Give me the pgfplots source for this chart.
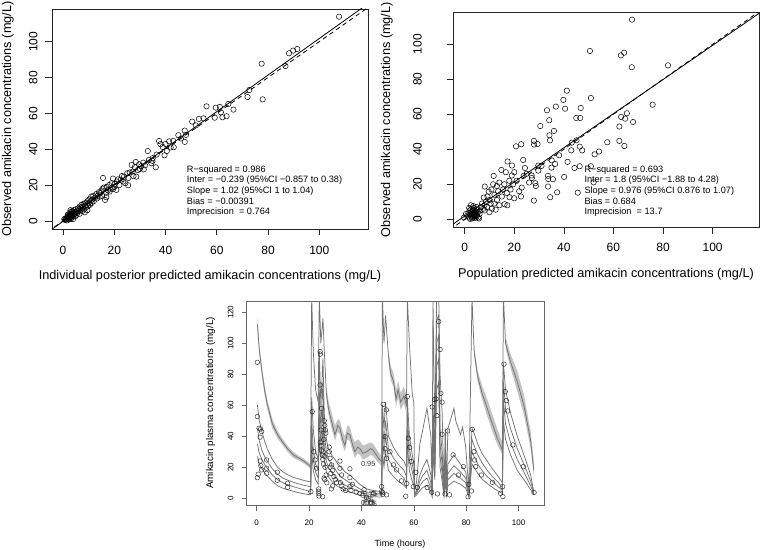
\documentclass[border=0pt]{standalone}
\usepackage{pgfplots}
\pgfplotsset{compat=1.18}
\usepackage{fontspec}
\setmainfont{Liberation Sans}
\definecolor{pline}{RGB}{115,115,115}
\definecolor{band}{RGB}{195,195,195}
\begin{document}
\begin{tikzpicture}[x=1pt,y=1pt]
\useasboundingbox (0,0) rectangle (760,549);
\pgfplotsset{
 topax/.style={scale only axis, anchor=south west,
   axis line style={black!85, line width=0.7pt},
   tick align=outside, major tick length=6.5pt,
   tick style={black!85, line width=0.6pt},
   xtick pos=bottom, ytick pos=left,
   xticklabel=\empty, yticklabel=\empty,
   xtick={0,20,...,100}, ytick={0,20,...,100}},
 obs/.style={only marks, mark=o, mark size=2.7pt, mark options={line width=0.5pt}, black},
}
% ---------------- Top left ----------------
\begin{axis}[topax, at={(52pt,320pt)}, width=316pt, height=220pt,
  xmin=-4.3, xmax=119, ymin=-4.5, ymax=118.2]
\addplot[obs] coordinates {
(0.5,1)(0.8,0.5)(1,1.5)(1.2,0.8)(1.5,1.2)(1.5,0.3)(1.8,2.5)(1.9,3.6)(2,1)(2,2)(2.2,3)(2.3,0.8)(2.4,2)(2.5,4)(2.6,2.8)(2.7,1.5)(2.8,3.5)(2.9,6)(3,2.5)(3,5)(3.1,1.2)(3.2,3)(3.3,4.2)(3.4,4.8)(3.5,2)(3.6,5.5)(3.8,3.8)(3.9,1)(4,4.5)(4,2.8)(4.2,6)(4.3,3.5)(4.5,5)(4.7,4)(4.8,2.5)(5,6.5)(5.2,5)(5.3,3.5)(5.5,4.5)(5.8,7)(6,5.5)(6.2,6.5)(6.5,8)(6.5,4)(6.8,6)(7,7.5)(7.2,9)(7.5,7)(7.5,5.5)(7.8,8)(8,9.5)(8.2,6.5)(8.5,8.5)(8.5,4.8)(8.8,10)(9,7.5)(9.2,9)(9.5,11)(9.5,6)(9.8,8.5)(10,10)(10.3,12)(10.5,9)(10.8,11)(11,13.5)(11.2,10)(11.5,12)(11.8,14)(12,11)(12.5,13)(13,15)(13.2,12.5)(13.5,14)(14,16)(14.3,13.5)(14.5,15.5)(15,17)(15.2,14)(15.5,18)(15.6,24)(15.9,18.6)(16.4,11.7)(16.9,13.2)(16.9,15.8)(17,19)(17.5,17)(18,20)(18.2,16.4)(18.5,18)(19,21)(19.5,17.7)(19.5,23.6)(20,19)(20.2,20.6)(20.8,17.3)(21,22)(21.5,23.2)(22,20)(22.5,23)(23,25)(23.5,22)(23.8,24.7)(24.3,21)(25.1,26.6)(25.4,19.9)(25.5,24)(26,27)(26.8,31.2)(27.2,27.5)(27.5,25)(28,30)(28.4,32.9)(28.6,24.7)(29.2,28.4)(29.7,31.6)(30,29)(30.5,30.5)(31.3,32.5)(31.5,28.8)(32,31)(33.1,39)(33.5,34)(34.5,32.2)(34.9,33.5)(35,35)(36.2,29.9)(36.5,37)(37.5,44.6)(38,42.8)(38.9,41.3)(39.6,36.6)(40,42.9)(40.5,39)(41.4,44.4)(42,41)(43,44.6)(43.2,41.1)(45,47.8)(46,46)(47.5,50.4)(47.5,44.1)(48,48)(50.4,55.4)(51.8,53.3)(53,56.9)(54.8,57.2)(56,63.9)(59.2,57.6)(59.6,63.2)(61.2,63.6)(61.6,60.6)(62.2,57.8)(63.8,58.4)(64.5,65.2)(66.5,62.1)(72,69.1)(72.7,73)(77.5,87.7)(77.9,67.8)(86.8,86.4)(88.2,93.5)(89.8,95)(91.4,95.9)(107.7,113.9)
};
\addplot[black, line width=0.8pt] coordinates {(-6,-6.359)(122,124.201)};
\addplot[black, line width=0.8pt, dash pattern=on 4.5pt off 3.5pt] coordinates {(-6,-6)(122,122)};
\end{axis}
% ---------------- Top right ----------------
\begin{axis}[topax, at={(453pt,321.7pt)}, width=306pt, height=215pt,
  xmin=-4.7, xmax=118.7, ymin=-4.6, ymax=118.3]
\addplot[obs] coordinates {
(1,2)(1.5,3.5)(2,1)(2,5)(2.3,2.5)(2.5,4)(2.7,6)(2.8,1.5)(3,3)(3,0.5)(3.1,4.5)(3.2,2)(3.3,5.5)(3.4,1)(3.5,3.5)(3.6,2.5)(3.7,6.5)(3.8,4)(3.9,1.5)(4,3)(4,5)(4.2,2)(4.3,0.8)(4.5,4.5)(4.6,3)(4.8,1.5)(5,2.5)(5,6)(5.3,4)(5.5,1)(6,3)(6.3,5)(2.5,8)(3.5,7.5)(1.8,6.5)(0.5,3)(-0.3,1)(4.8,7)(5.8,0.5)(2.2,0.2)
(6.5,7)(7,9)(7.5,6)(7.7,12.4)(8,5)(8,8)(8.1,18.7)(8.5,10)(9,7)(9.2,13)(9.7,15.8)(10,4)(10,11)(10.5,9)(10.8,17)(11,6)(11.5,20)(11.7,24.8)(12,14)(12,9)(12.5,5.5)(13,19)(13,11)(13.5,16)(14,21)(14,8)(14.8,28.2)(15,13)(15.5,17)(16,20)(16.1,8.6)(16.6,26.9)(17,15)(17.2,8)(17.3,33)(18,22)(18.1,12.6)(18.5,17)(19,25)(19.1,30.7)(19.5,20)(20,26.9)(20,12)(20.7,41.7)(21,22)(22,16)(22.7,13)(22.8,42.9)(23,18.1)(23.6,33.9)(23.8,24.8)(24.3,29.3)(25,26)(26,21)(27,25)(27.1,23.6)(27.9,44.8)(27.9,10.7)(28,42.7)(28.5,20.6)(28.7,19)(29.4,43)(29.7,30.7)(29.7,27.8)(30.5,53.3)(31,30.5)(33.2,62.3)(33.6,24.8)(33.6,18.7)(33.7,23)(34.1,56.6)(34.2,48)(34.4,45.1)(34.5,12.6)(35,29.5)(35.1,33.7)(35.6,22.9)(36,50.5)(36.5,31.6)(36.8,64.4)(37.3,15.4)(38.1,36.6)(39.8,68.2)(40.1,24.2)(40.5,63.2)(41.2,73.5)(41.5,32.8)(43,39.4)(43.2,43.8)(44.3,29.3)(45,57.9)(45.1,45.1)(45.6,15.2)(46.4,41.5)(46.4,30.3)(46.6,57.9)(46.8,63.6)(47.4,39.4)(50.5,96.2)(50.9,69.3)(50.9,30.3)(52,21.1)(52.4,37.1)(54.2,38.7)(57.5,44)(62.4,44.8)(62.4,53)(63,93.7)(63.1,58.5)(64.3,95.2)(64.4,41.9)(64.7,57.5)(65.4,60.6)(67.4,86.9)(67.5,114.1)(67.9,55.6)(75.8,65.5)(82,88)
};
\addplot[black, line width=0.8pt] coordinates {(-6,-4.056)(122,120.872)};
\addplot[black, line width=0.8pt, dash pattern=on 4.5pt off 3.5pt] coordinates {(-6,-6)(122,122)};
\end{axis}
% ---------------- Bottom ----------------
\begin{axis}[scale only axis, anchor=south west, at={(246.7pt,43.3pt)}, width=297.6pt, height=204pt,
  xmin=-3.8, xmax=109.8, ymin=-4.8, ymax=126.8,
  axis line style={black!60, line width=0.6pt},
  tick align=outside, major tick length=5pt,
  tick style={black!60, line width=0.5pt},
  xtick pos=bottom, ytick pos=left,
  xticklabel=\empty, yticklabel=\empty,
  xtick={0,20,...,100}, ytick={0,20,...,120}]
% band around 95th percentile
\addplot[fill=band, draw=none] coordinates {(0.3,116)(1,99)(2,85)(3,73)(4,64)(6,51)(8,43.5)(10,38)(12,33.5)(14,30)(16,27.5)(18,25.5)(20.6,22)(20.6,19)(18,22.5)(16,24.5)(14,26)(12,29.5)(10,34)(8,38.5)(6,45)(4,58)(3,67)(2,79)(1,93)(0.3,108)};
\addplot[fill=band, draw=none] coordinates {(26.6,72)(27.4,63)(28.6,55)(29.9,47)(31,51)(31.8,50)(32.8,43)(33.7,40)(34.6,47)(35.6,46)(36.5,40)(37.5,36)(38.5,38)(39.4,37)(40.5,34)(42,35)(43.5,36)(44.5,35)(46.4,30)(47.7,27)(47.7,21)(46.4,23)(44.5,27)(43.5,28)(42,26)(40.5,25)(39.4,28)(38.5,29)(37.5,26)(36.5,31)(35.6,37)(34.6,38)(33.7,30)(32.8,34)(31.8,41)(31,43)(29.9,37)(28.6,45)(27.4,54)(26.6,64)};
\addplot[fill=band, draw=none] coordinates {(50.3,96)(51.2,85)(52.2,81)(53.2,70)(54,76)(55,68)(56.2,72)(57.2,66)(57.2,55)(56.2,61)(55,57)(54,65)(53.2,59)(52.2,72)(51.2,76)(50.3,88)};
\addplot[fill=band, draw=none] coordinates {(83,98)(84.4,82)(86,73)(88,64)(90,54)(91.8,45)(93.8,36)(93.8,28)(91.8,35)(90,43)(88,53)(86,64)(84.4,75)(83,92)};
\addplot[fill=band, draw=none] coordinates {(95,104)(96.9,93)(99.5,82)(102,67)(104.6,43)(105.8,23)(105.8,15)(104.6,32)(102,54)(99.5,69)(96.9,84)(95,97)};
% percentile lines
\addplot[pline, line width=0.75pt] coordinates {(0.3,112)(1,96)(2,82)(3,70)(4,61)(6,48)(8,41)(10,36)(12,31.5)(14,28)(16,26)(18,24)(20.6,20.5)(21,130)(21.6,95)(22.5,70)(23.5,62)(23.9,130)(24.5,100)(25.3,116)(25.8,96)(26.6,68)(27.4,58)(28.6,49.5)(29.9,41)(31,47)(31.8,45)(32.8,38)(33.7,34)(34.6,42)(35.6,41)(36.5,35)(37.5,30)(38.5,33)(39.4,32)(40.5,29)(42,30)(43.5,32)(44.5,31)(46.4,26)(47.7,23.7)(48,130)(48.6,100)(49.2,118)(50.3,92)(51.2,80)(52.2,76)(53.2,64)(54,70)(55,62)(56.2,66)(57.2,60)(57.5,130)(58.3,100)(59.4,67)(60,62)(60.3,6)(61,10)(62.3,35)(63.5,45)(65,58)(66.5,40)(67,5)(67.3,130)(68,40)(68.7,130)(69.5,130)(70,80)(70.8,55)(71.5,5)(72,45)(72.5,10)(73,45)(75.3,58)(76,50)(77.8,41)(78.6,46)(79.8,33)(81,5)(82.2,130)(83,95)(84.4,78)(86,68)(88,58)(90,48)(91.8,39)(93.8,31)(94.2,130)(95,100)(96.9,88)(99.5,75)(102,60)(104.6,37)(105.8,18)};
\addplot[pline, line width=0.75pt] coordinates {(0.3,60)(1,50)(2,43)(3,37)(4,32)(6,25)(8,20)(10,17)(12,15)(14,13.5)(16,12.5)(18,11.5)(20.6,10.5)(21,65)(21.6,45)(22.5,30)(23.5,25)(23.9,95)(24.5,60)(25.3,90)(25.8,55)(26.6,38)(27.4,32)(28.6,28)(29.9,25)(31,22)(32.8,19)(33.7,17)(35.6,15)(37.5,12)(39.4,9)(42,6)(44.5,5)(47.7,4.3)(48,60)(48.6,45)(49.2,62)(50.3,40)(52.2,33)(54,28)(56.2,24)(57.2,20)(57.5,65)(58.3,40)(59.4,28)(60,22)(60.3,3)(61,5)(62.3,15)(63.5,20)(65,25)(66.5,15)(67,3)(67.3,60)(68,30)(68.7,115)(69.5,118)(70,45)(70.8,30)(71.5,3)(72,30)(72.5,5)(73,22)(75.3,28)(77.8,22)(79.8,17)(81,3)(82.2,45)(83,42)(84.4,35)(86,29)(88,24)(90,19)(91.8,15)(93.8,10)(94.2,87)(95,70)(96.9,55)(99.5,40)(102,28)(104.6,15)(105.8,4)};
\addplot[pline, line width=0.75pt] coordinates {(0.3,45)(1,37)(2,31)(3,27)(4,24)(6,19)(8,15.5)(10,13)(12,11.6)(14,10.3)(16,9.3)(18,8.4)(20.6,7.5)(21,50)(21.6,32)(22.5,22)(23.5,18)(23.9,70)(24.5,45)(25.3,75)(25.8,42)(26.6,30)(27.4,25)(28.6,22)(29.9,19)(31,16)(32.8,13)(33.7,12)(35.6,10)(37.5,8)(39.4,6)(42,4)(44.5,3.5)(47.7,3)(48,50)(48.6,35)(49.2,50)(50.3,32)(52.2,26)(54,22)(56.2,18)(57.2,14)(57.5,55)(58.3,32)(59.4,22)(60,17)(60.3,2.5)(61,4)(62.3,11)(63.5,15)(65,18)(66.5,10)(67,2.5)(67.3,50)(68,22)(68.7,100)(69.5,105)(70,35)(70.8,22)(71.5,2.5)(72,22)(72.5,4)(73,16)(75.3,21)(77.8,17)(79.8,13)(81,2)(82.2,38)(83,34)(84.4,28)(86,23)(88,18)(90,14)(91.8,11)(93.8,7)(94.2,75)(95,58)(96.9,45)(99.5,32)(102,22)(104.6,11)(105.8,3.5)};
\addplot[pline, line width=0.75pt] coordinates {(0.3,35)(1,29)(2,25)(3,22)(4,19.5)(6,15)(8,12)(10,10)(12,8.6)(14,7.5)(16,6.5)(18,5.5)(20.6,4.3)(21,40)(21.6,25)(22.5,17)(23.5,13)(23.9,55)(24.5,35)(25.3,60)(25.8,33)(26.6,24)(27.4,20)(28.6,17)(29.9,14)(31,12)(32.8,9.5)(33.7,8.5)(35.6,7)(37.5,5.5)(39.4,4)(42,2.8)(44.5,2.4)(47.7,2)(48,40)(48.6,28)(49.2,40)(50.3,25)(52.2,20)(54,17)(56.2,13)(57.2,10)(57.5,45)(58.3,25)(59.4,17)(60,13)(60.3,2)(61,3)(62.3,8)(63.5,11)(65,13)(66.5,7)(67,2)(67.3,40)(68,17)(68.7,85)(69.5,90)(70,27)(70.8,16)(71.5,2)(72,16)(72.5,3)(73,12)(75.3,16)(77.8,13)(79.8,10)(81,1.5)(82.2,30)(83,27)(84.4,22)(86,18)(88,14)(90,11)(91.8,8)(93.8,5)(94.2,63)(95,48)(96.9,36)(99.5,25)(102,17)(104.6,8)(105.8,3)};
\addplot[pline, line width=0.75pt] coordinates {(0.3,27)(1,22)(2,19)(3,16.5)(4,14.5)(6,11)(8,8)(10,6.5)(12,5.4)(14,4.5)(16,3.6)(18,2.9)(20.6,2.2)(21,30)(21.6,18)(22.5,12)(23.5,9)(23.9,40)(24.5,25)(25.3,45)(25.8,24)(26.6,17)(27.4,14)(28.6,11)(29.9,9)(31,7.5)(32.8,6)(33.7,5)(35.6,4)(37.5,3)(39.4,2)(42,1.2)(44.5,1)(47.7,0.8)(48,30)(48.6,20)(49.2,30)(50.3,18)(52.2,14)(54,11)(56.2,8.5)(57.2,6.5)(57.5,35)(58.3,18)(59.4,11)(60,8)(60.3,1)(61,2)(62.3,5)(63.5,7)(65,8.5)(66.5,4)(67,1)(67.3,30)(68,12)(68.7,70)(69.5,75)(70,20)(70.8,11)(71.5,1)(72,10)(72.5,1.5)(73,8)(75.3,11)(77.8,9)(79.8,6.5)(81,0.8)(82.2,22)(83,20)(84.4,16)(86,12.5)(88,9.5)(90,7)(91.8,5)(93.8,3)(94.2,50)(95,38)(96.9,28)(99.5,18)(102,12)(104.6,5.5)(105.8,2.5)};
% observations
\addplot[only marks, mark=o, mark size=2.3pt, mark options={line width=0.45pt}, black!85] coordinates {
(0.25,87.7)(0.25,52.7)(0.9,45.2)(1.5,44.7)(1.9,43)(1.3,39.4)(0.25,13.3)(1.3,24)(1.6,21)(1.9,18.3)(3.8,24.7)(3.8,19.4)(3.8,16.1)(0.6,15.5)(7.9,16.8)(7.9,11.6)(11.8,9.7)(11.8,7.1)(20.7,4.3)(21.2,55.9)(21.8,30)(22.3,24.7)(22.9,19.4)(23.7,6)(23.7,4.5)(23.7,3)(23.8,1.5)(24.2,94.6)(24.3,93)(24.2,73.1)(24.8,58)(24.6,44)(24.3,36)(24.5,34)(24.7,31)(25.2,1)(25,28)(25.3,25)(25.5,22)(25.8,50)(26,47)(26.2,44)(26.4,42)(25.6,38)(25.4,30)(25.9,27)(26.1,20)(26.5,15)(26,12)(25.7,13)(26.8,10)(27.7,33)(27.7,30)(28,25.8)(28.6,21.5)(28,20)(28.3,16)(29,18)(29.5,14)(30,12)(30.5,10)(29,8)(28.5,6)(31.8,24)(31.8,19.4)(32.4,15)(32,10)(32.5,8)(33,6)(35.6,19)(35.6,13.3)(35.6,7.5)(36,5)(34,5)(36.5,9)(38,4)(39.4,3.2)(40.5,2)(41,5.5)(42,0.5)(42.5,-1)(43.5,-2.5)(44.5,3)(47.7,7.5)(47.7,4.3)(48.2,2.6)(48.1,3.7)(48.3,60.6)(49,39.8)(49,32)(49.6,25.8)(49.5,57)(49.6,2.2)(50.9,30)(52.2,21.5)(53.4,18.3)(55.3,11.2)
(57.5,65.6)(57.9,38.7)(58.4,32.9)(59,23.7)(60.8,16.8)(56.9,1.3)(57.3,9.5)(59.8,7.5)(61.3,6.9)(65.1,6.9)(66.8,3.9)(69,2.8)(67,58.9)(67.9,63.7)(68.5,64.1)(69.5,114)(70,96)(70.3,67.7)(70.8,62)(68.8,53.3)(70.8,41.3)(72.9,43.4)(71.9,2.8)(73.6,2.2)(75,28)(78.9,20.4)(77,15)(81,9)(80.7,1)(82,4.7)(82.3,44.5)(82.9,30)(83.2,24.7)(83.6,20.4)(85.8,15)(90,10.3)(93.1,3.2)(93.9,7.5)(94,1.1)(94.4,86.5)(94.9,68.8)(95.3,63)(95.8,56.3)(97.8,34.4)(101.8,20.4)(105.9,3.7)
};
\node[font=\fontsize{7.4}{8}\selectfont, text=black!80] at (axis cs:42.6,21.9) {0.95};
\node[font=\fontsize{7.4}{8}\selectfont, text=black!80] at (axis cs:43.3,2.6) {0.75};
\node[font=\fontsize{7.4}{8}\selectfont, text=black!80] at (axis cs:42.8,-1.2) {0.5};
\node[font=\fontsize{7.4}{8}\selectfont, text=black!80] at (axis cs:42.6,-2.8) {0.25};
\node[font=\fontsize{7.4}{8}\selectfont, text=black!80] at (axis cs:43.2,-3.8) {0.05};
\end{axis}
% ---------------- tick labels ----------------
\begin{scope}[every node/.style={font=\fontsize{12}{14}\selectfont, inner sep=0pt}]
\foreach \v/\p in {0/63.02,20/114.3,40/165.5,60/216.8,80/268.0,100/319.3} \node[anchor=base] at (\p,294) {\v};
\foreach \v/\p in {0/328.1,20/363.9,40/399.8,60/435.6,80/471.5,100/507.3} \node[anchor=base, rotate=90] at (37.3,\p) {\v};
\foreach \v/\p in {0/464.65,20/514.25,40/563.85,60/613.4,80/663.0,100/712.6} \node[anchor=base] at (\p,297.3) {\v};
\foreach \v/\p in {0/329.75,20/364.7,40/399.7,60/434.7,80/469.7,100/504.7} \node[anchor=base, rotate=90] at (421.7,\p) {\v};
\end{scope}
\begin{scope}[every node/.style={font=\fontsize{8}{9}\selectfont, inner sep=0pt}]
\foreach \v/\p in {0/256.65,20/309.05,40/361.45,60/413.85,80/466.2,100/518.6} \node[anchor=base] at (\p,24) {\v};
\foreach \v/\p in {0/50.74,20/81.74,40/112.74,60/143.75,80/174.75,100/205.76,120/236.76} \node[anchor=base, rotate=90] at (233.3,\p) {\v};
\end{scope}
% ---------------- labels ----------------
\node[anchor=base, font=\fontsize{12.7}{14}\selectfont] at (210,269) {Individual posterior predicted amikacin concentrations (mg/L)};
\node[anchor=base, rotate=90, font=\fontsize{12.7}{14}\selectfont] at (11,430) {Observed amikacin concentrations (mg/L)};
\node[anchor=base, font=\fontsize{12.7}{14}\selectfont] at (606,271.5) {Population predicted amikacin concentrations (mg/L)};
\node[anchor=base, rotate=90, font=\fontsize{12.7}{14}\selectfont] at (390,429.2) {Observed amikacin concentrations (mg/L)};
\node[anchor=base, font=\fontsize{9}{10}\selectfont] at (400,3) {Time (hours)};
\node[anchor=base, rotate=90, font=\fontsize{9.8}{11}\selectfont] at (213,146) {Amikacin plasma concentrations (mg/L)};
% annotations
\begin{scope}[every node/.style={anchor=base west, inner sep=0pt, font=\fontsize{9.2}{10}\selectfont}]
\node at (186.7,376.7) {R−squared = 0.986};
\node at (186.7,366) {Inter = −0.239 (95\%CI −0.857 to 0.38)};
\node at (186.7,355.3) {Slope = 1.02 (95\%CI 1 to 1.04)};
\node at (186.7,344.7) {Bias = −0.00391};
\node at (186.7,334.7) {Imprecision\ \ = 0.764};
\node at (584.3,376) {R−squared = 0.693};
\node at (584.3,366) {Inter = 1.8 (95\%CI −1.88 to 4.28)};
\node at (584.3,355.3) {Slope = 0.976 (95\%CI 0.876 to 1.07)};
\node at (584.3,344.7) {Bias = 0.684};
\node at (584.3,334.3) {Imprecision\ \ = 13.7};
\end{scope}
\end{tikzpicture}
\end{document}
